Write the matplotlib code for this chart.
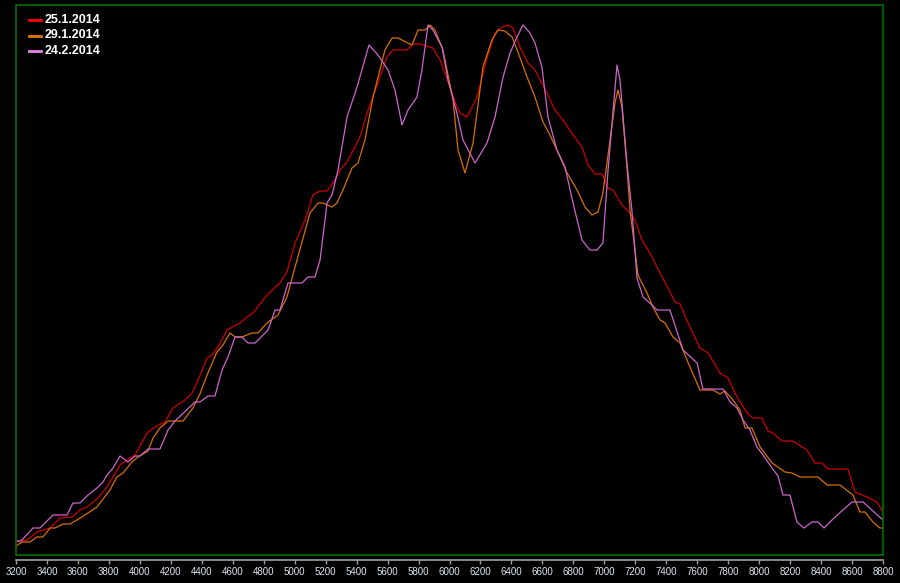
import matplotlib.pyplot as plt
from matplotlib.patches import Rectangle

# values (x position, height)
x_25jan = [3200, 3271, 3336, 3420, 3484, 3562, 3613, 3659, 3730, 3788, 3872, 3936, 3969,
           4046, 4098, 4162, 4214, 4292, 4337, 4376, 4434, 4466, 4505, 4563, 4647, 4692,
           4731, 4821, 4905, 4950, 5002, 5067, 5118, 5164, 5209, 5260, 5293, 5338, 5422,
           5467, 5538, 5596, 5635, 5725, 5764, 5809, 5893, 5939, 6003, 6048, 6068, 6113,
           6178, 6242, 6294, 6339, 6378, 6410, 6455, 6507, 6552, 6630, 6681, 6733, 6798,
           6856, 6895, 6940, 6985, 7024, 7056, 7114, 7166, 7198, 7243, 7295, 7360, 7411,
           7457, 7489, 7541, 7618, 7670, 7747, 7799, 7857, 7922, 7960, 8018, 8057, 8089,
           8147, 8218, 8309, 8361, 8406, 8445, 8574, 8619, 8697, 8761, 8800]
y_25jan = [13, 15, 23, 27, 37, 38, 45, 48, 57, 68, 90, 97, 100,
           122, 128, 133, 147, 155, 162, 175, 197, 200, 208, 225, 232, 238,
           242, 260, 272, 283, 312, 335, 360, 364, 364, 375, 385, 393, 418,
           442, 472, 498, 505, 505, 511, 511, 507, 495, 468, 448, 442, 438,
           458, 497, 522, 528, 530, 527, 508, 492, 485, 462, 445, 435, 420,
           408, 390, 381, 381, 367, 365, 350, 342, 335, 315, 302, 282, 267,
           253, 251, 232, 207, 202, 182, 177, 158, 142, 137, 137, 124, 122,
           114, 114, 105, 92, 92, 86, 86, 63, 58, 53, 43]

x_29jan = [3200, 3239, 3290, 3336, 3374, 3420, 3452, 3504, 3549, 3626, 3723, 3807, 3852,
           3891, 3949, 3988, 4053, 4085, 4130, 4182, 4279, 4343, 4388, 4434, 4498, 4537,
           4582, 4615, 4660, 4724, 4763, 4821, 4892, 4950, 5015, 5099, 5151, 5183, 5241,
           5273, 5312, 5370, 5409, 5454, 5506, 5583, 5629, 5667, 5758, 5797, 5842, 5874,
           5906, 5958, 6023, 6055, 6100, 6152, 6216, 6274, 6313, 6358, 6404, 6442, 6501,
           6552, 6604, 6649, 6714, 6759, 6824, 6875, 6920, 6959, 6991, 7037, 7069, 7088,
           7114, 7146, 7166, 7198, 7217, 7276, 7314, 7360, 7392, 7444, 7489, 7553, 7618,
           7702, 7747, 7779, 7831, 7876, 7909, 7954, 8006, 8083, 8167, 8212, 8264, 8380,
           8438, 8522, 8606, 8651, 8684, 8735, 8780, 8800]
y_29jan = [9, 13, 13, 18, 18, 27, 27, 31, 31, 38, 48, 65, 78,
           82, 93, 98, 104, 117, 127, 134, 134, 147, 161, 180, 203, 210,
           222, 218, 218, 222, 222, 232, 240, 258, 295, 342, 352, 352, 348,
           352, 365, 387, 392, 415, 458, 505, 517, 517, 510, 525, 525, 530,
           525, 505, 455, 405, 382, 412, 488, 515, 525, 524, 518, 503, 478,
           458, 433, 420, 398, 382, 365, 348, 340, 343, 362, 415, 452, 465,
           448, 388, 345, 305, 280, 262, 248, 235, 232, 218, 212, 188, 165,
           165, 161, 164, 155, 145, 127, 127, 108, 92, 83, 82, 78, 78,
           70, 70, 60, 43, 43, 33, 27, 27]

x_24feb = [3200, 3232, 3310, 3355, 3439, 3529, 3568, 3613, 3665, 3723, 3762, 3788, 3827,
           3872, 3923, 3969, 4001, 4053, 4130, 4182, 4227, 4356, 4388, 4440, 4485, 4531,
           4569, 4615, 4660, 4698, 4744, 4828, 4873, 4905, 4957, 5047, 5086, 5131, 5164,
           5209, 5241, 5280, 5338, 5403, 5480, 5538, 5603, 5648, 5693, 5732, 5790, 5822,
           5861, 5893, 5952, 5990, 6048, 6087, 6165, 6242, 6294, 6346, 6391, 6436, 6475,
           6520, 6552, 6597, 6636, 6694, 6746, 6798, 6856, 6907, 6953, 6991, 7024, 7082,
           7101, 7146, 7178, 7211, 7250, 7308, 7340, 7424, 7508, 7599, 7637, 7767, 7812,
           7857, 7896, 7941, 7986, 8025, 8083, 8122, 8154, 8199, 8244, 8290, 8341, 8380,
           8419, 8477, 8541, 8600, 8671, 8800]
y_24feb = [14, 14, 27, 27, 40, 40, 52, 52, 60, 67, 73, 80, 87,
           99, 93, 99, 99, 106, 106, 125, 134, 153, 153, 159, 159, 185,
           198, 218, 218, 212, 212, 225, 245, 245, 272, 272, 278, 278, 295,
           352, 360, 385, 438, 468, 510, 500, 485, 465, 430, 445, 458, 485,
           530, 525, 508, 475, 442, 415, 392, 412, 438, 478, 502, 518, 530,
           522, 512, 488, 438, 405, 388, 352, 315, 305, 305, 312, 385, 490,
           475, 392, 345, 277, 258, 250, 245, 245, 205, 192, 166, 166, 153,
           147, 135, 125, 108, 100, 87, 79, 60, 60, 33, 27, 33, 33,
           27, 36, 45, 53, 53, 35]

series_labels = ['25.1.2014', '29.1.2014', '24.2.2014']
line_colors = ['#cc0000', '#d87000', '#cc66cc']
legend_colors = ['#ff0000', '#e07800', '#ee82ee']
x_ticks = list(range(3200, 8801, 200))

fig = plt.figure(figsize=(9, 5.83), dpi=100, facecolor='black')
ax = fig.add_axes([16 / 900, 28 / 583, 867 / 900, 550 / 583])
ax.set_facecolor('black')

ax.plot(x_25jan, y_25jan, color=line_colors[0], lw=0.9)
ax.plot(x_29jan, y_29jan, color=line_colors[1], lw=0.9)
ax.plot(x_24feb, y_24feb, color=line_colors[2], lw=0.9)

ax.set_xlim(3200, 8800)
ax.set_ylim(0, 550)

# green frame round the plot area
for s in ['left', 'right', 'top']:
    ax.spines[s].set_visible(False)
ax.add_patch(Rectangle((0, 0), 1, 1, transform=ax.transAxes, fill=False,
                       edgecolor='#007000', lw=1.2, clip_on=False, zorder=5))

# grey axis line a few pixels below the frame
ax.spines['bottom'].set_position(('outward', 3.6))
ax.spines['bottom'].set_color('#a0a0a0')
ax.spines['bottom'].set_linewidth(1.2)
ax.set_xticks(x_ticks)
ax.set_xticklabels([str(t) for t in x_ticks], fontsize=7, family='Liberation Sans',
                   color='#dde6ee')
ax.tick_params(axis='x', direction='out', length=3, width=1, color='#a0a0a0', pad=2)
ax.set_yticks([])

# legend drawn as short line samples with bold labels
for i, lab in enumerate(series_labels):
    y = 20 + i * 15.5
    fig.add_artist(plt.Line2D([29 / 900, 41 / 900], [1 - y / 583, 1 - y / 583],
                              color=legend_colors[i], lw=2))
    fig.text(45 / 900, 1 - y / 583, lab, color='white', fontsize=9, fontweight='bold',
             family='Liberation Sans', va='center', ha='left')

fig.savefig('out.png', dpi=100, facecolor='black')
